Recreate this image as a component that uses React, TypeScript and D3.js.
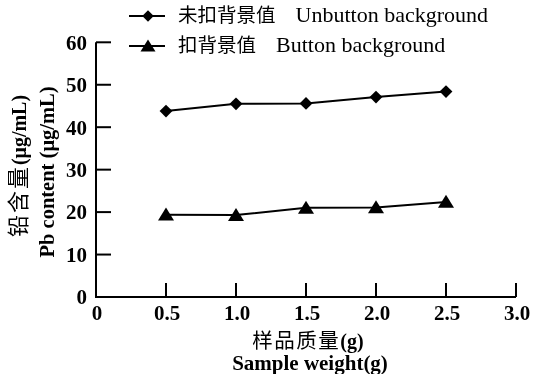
import React from "react";
import * as d3 from "d3";

const sampleWeights = [0.5, 1.0, 1.5, 2.0, 2.5];
const unbuttonValues = [43.8, 45.5, 45.6, 47.1, 48.4];
const buttonValues = [19.4, 19.3, 21.0, 21.1, 22.4];
const xTicks = [0, 0.5, 1.0, 1.5, 2.0, 2.5, 3.0];
const yTicks = [0, 10, 20, 30, 40, 50, 60];
const legendCn = ["未扣背景值", "扣背景值"];
const legendEn = ["Unbutton background", "Button background"];
const xTitleCn = "样品质量";
const xTitleUnit = "(g)";
const xTitleEn = "Sample weight(g)";
const yTitleCn = "铅含量";
const yTitleUnit = "(μg/mL)";
const yTitleEn = "Pb content (μg/mL)";

const W = 534, H = 374;
const SERIF = "Liberation Serif, Tinos, Times New Roman, serif";
const CJK = "Noto Sans CJK SC, sans-serif";
const serif = { fontFamily: SERIF };
const serifB = { fontFamily: SERIF, fontWeight: 700 as const };
const cjk = { fontFamily: CJK };

export default function App() {
  const x = d3.scaleLinear().domain([0, 3]).range([96, 516]);
  const y = d3.scaleLinear().domain([0, 60]).range([297, 42.3]);
  const line = d3.line<[number, number]>().x(d => x(d[0])).y(d => y(d[1]));
  const s1 = sampleWeights.map((w, i) => [w, unbuttonValues[i]] as [number, number]);
  const s2 = sampleWeights.map((w, i) => [w, buttonValues[i]] as [number, number]);
  const diamond = d3.symbol().type(d3.symbolDiamond2).size(105)();
  const tri = (cx: number, cy: number, w: number, h: number) =>
    `M${cx},${cy - h * 0.55}L${cx + w / 2},${cy + h * 0.45}L${cx - w / 2},${cy + h * 0.45}Z`;

  return (
    <div style={{ position: "fixed", left: 0, top: 0, width: W, height: H, background: "#fff", filter: "grayscale(1)" }}>
      <svg width={W} height={H} style={{ display: "block" }}>
        <rect width={W} height={H} fill="#fff" />
        {/* axes */}
        <line x1={x(0)} x2={x(0)} y1={y(60)} y2={y(0)} stroke="#000" strokeWidth={2} />
        <line x1={x(0) - 1} x2={x(3)} y1={y(0)} y2={y(0)} stroke="#000" strokeWidth={2} />
        {yTicks.map(t => (
          <g key={"y" + t}>
            {t > 0 && <line x1={x(0)} x2={x(0) + 15} y1={y(t)} y2={y(t)} stroke="#000" strokeWidth={2} />}
            <text x={87} y={y(t)} dy="0.35em" textAnchor="end" style={serifB} fontSize={21}>{t}</text>
          </g>
        ))}
        {xTicks.map(t => (
          <g key={"x" + t}>
            {t > 0 && <line x1={x(t)} x2={x(t)} y1={y(0)} y2={y(0) - 14} stroke="#000" strokeWidth={2} />}
            <text x={x(t) + 1} y={312.5} dy="0.35em" textAnchor="middle" style={serifB} fontSize={21}>{t === 0 ? "0" : t.toFixed(1)}</text>
          </g>
        ))}
        {/* series */}
        <path d={line(s1) || ""} fill="none" stroke="#000" strokeWidth={2} />
        <path d={line(s2) || ""} fill="none" stroke="#000" strokeWidth={2} />
        {s1.map((d, i) => (
          <path key={"d" + i} d={diamond || ""} transform={`translate(${x(d[0])},${y(d[1])})`} fill="#000" />
        ))}
        {s2.map((d, i) => (
          <path key={"t" + i} d={tri(x(d[0]), y(d[1]), 16, 13)} fill="#000" />
        ))}
        {/* legend */}
        {[0, 1].map(i => {
          const ly = i === 0 ? 16 : 46;
          return (
            <g key={"l" + i}>
              <line x1={129} x2={165} y1={ly} y2={ly} stroke="#000" strokeWidth={2} />
              {i === 0 ? (
                <path d={d3.symbol().type(d3.symbolDiamond2).size(85)() || ""} transform={`translate(148,${ly})`} fill="#000" />
              ) : (
                <path d={tri(148, ly, 15, 12)} fill="#000" />
              )}
              <text x={178} y={ly} dy="0.35em" fill="#000">
                <tspan style={cjk} fontSize={19.5}>{legendCn[i]}</tspan>
                <tspan style={serif} fontSize={22} dx={20}>{legendEn[i]}</tspan>
              </text>
            </g>
          );
        })}
        {/* x title */}
        <text x={308} y={342} dy="0.35em" textAnchor="middle" fill="#000">
          <tspan style={{ ...cjk, letterSpacing: 1.5 }} fontSize={20.5}>{xTitleCn}</tspan>
          <tspan style={serifB} fontSize={20}>{xTitleUnit}</tspan>
        </text>
        <text x={310} y={362.5} dy="0.35em" textAnchor="middle" style={serifB} fontSize={21} fill="#000">{xTitleEn}</text>
        {/* y title */}
        <text transform={`translate(20,166) rotate(-90)`} dy="0.35em" textAnchor="middle" fill="#000">
          <tspan style={{ ...cjk, letterSpacing: 2 }} fontSize={22}>{yTitleCn}</tspan>
          <tspan style={serifB} fontSize={20}>{yTitleUnit}</tspan>
        </text>
        <text transform={`translate(47,172) rotate(-90)`} dy="0.35em" textAnchor="middle" style={serifB} fontSize={20.5} fill="#000">{yTitleEn}</text>
      </svg>
    </div>
  );
}
